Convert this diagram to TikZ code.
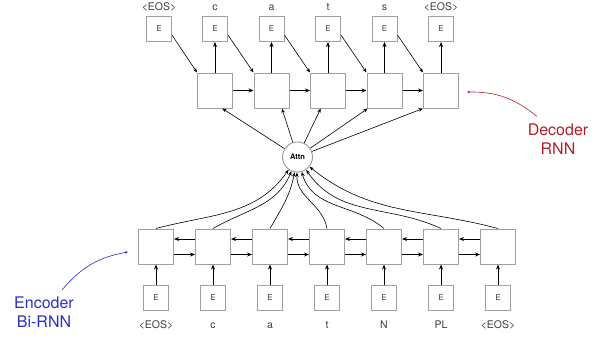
\documentclass[tikz,border=0pt]{standalone}
\usepackage{fontspec}
\setmainfont{TeX Gyre Heros}
\usetikzlibrary{arrows.meta, positioning}
\definecolor{boxgray}{RGB}{160,160,160}
\definecolor{textgray}{RGB}{60,60,60}
\definecolor{encblue}{RGB}{45,45,200}
\definecolor{decred}{RGB}{180,30,40}

\begin{document}
\begin{tikzpicture}[
    x=1pt, y=1pt,
    cell/.style={draw=boxgray, line width=1pt, minimum size=35pt, inner sep=0pt},
    embed/.style={draw=boxgray, line width=1pt, minimum size=25pt, inner sep=0pt, font=\fontsize{8}{9}\selectfont, text=textgray},
    word/.style={font=\fontsize{10.5}{12}\selectfont, text=textgray, inner sep=1pt, text height=8pt, text depth=2pt},
    attnnode/.style={circle, draw=boxgray, line width=1pt, minimum size=30pt, inner sep=0pt, font=\fontsize{7.5}{9}\bfseries\selectfont},
    arrow/.style={-{Stealth[length=5pt, width=4pt]}, line width=0.9pt},
    link/.style={-{Stealth[length=4.5pt, width=3.5pt]}, line width=0.6pt},
    note/.style={-{Stealth[length=3pt, width=2.5pt]}, line width=0.6pt},
    tag/.style={font=\fontsize{16}{19}\selectfont, align=center, inner sep=0pt}
]
    \useasboundingbox (0,0) rectangle (597,-338);

    % Encoder cells
    \node[cell] (enc1) at (156,-246.5) {};
    \node[cell, right=21pt of enc1] (enc2) {};
    \node[cell, right=21pt of enc2] (enc3) {};
    \node[cell, right=21pt of enc3] (enc4) {};
    \node[cell, right=21pt of enc4] (enc5) {};
    \node[cell, right=21pt of enc5] (enc6) {};
    \node[cell, right=21pt of enc6] (enc7) {};

    % Encoder embeddings and inputs
    \node[embed, below=20.5pt of enc1] (ee1) {E};
    \node[embed, below=20.5pt of enc2] (ee2) {E};
    \node[embed, below=20.5pt of enc3] (ee3) {E};
    \node[embed, below=20.5pt of enc4] (ee4) {E};
    \node[embed, below=20.5pt of enc5] (ee5) {E};
    \node[embed, below=20.5pt of enc6] (ee6) {E};
    \node[embed, below=20.5pt of enc7] (ee7) {E};
    \node[word, below=8.5pt of ee1] (in1) {<EOS>};
    \node[word, below=8.5pt of ee2] (in2) {c};
    \node[word, below=8.5pt of ee3] (in3) {a};
    \node[word, below=8.5pt of ee4] (in4) {t};
    \node[word, below=8.5pt of ee5] (in5) {N};
    \node[word, below=8.5pt of ee6] (in6) {PL};
    \node[word, below=8.5pt of ee7] (in7) {<EOS>};

    % Decoder cells
    \node[cell] (dec1) at (215,-90.5) {};
    \node[cell, right=20.5pt of dec1] (dec2) {};
    \node[cell, right=20.5pt of dec2] (dec3) {};
    \node[cell, right=20.5pt of dec3] (dec4) {};
    \node[cell, right=20.5pt of dec4] (dec5) {};

    % Decoder embeddings and outputs
    \node[embed, above=30.5pt of dec1] (de2) {E};
    \node[embed, left=30pt of de2] (de1) {E};
    \node[embed, above=30.5pt of dec2] (de3) {E};
    \node[embed, above=30.5pt of dec3] (de4) {E};
    \node[embed, above=30.5pt of dec4] (de5) {E};
    \node[embed, above=30.5pt of dec5] (de6) {E};
    \node[word, above=2.5pt of de1] (out1) {<EOS>};
    \node[word, above=2.5pt of de2] (out2) {c};
    \node[word, above=2.5pt of de3] (out3) {a};
    \node[word, above=2.5pt of de4] (out4) {t};
    \node[word, above=2.5pt of de5] (out5) {s};
    \node[word, above=2.5pt of de6] (out6) {<EOS>};

    % Attention
    \node[attnnode] (attn) at (297.5,-157) {Attn};

    % Labels
    \node[tag, text=encblue] (enclabel) at (44,-312.5) {Encoder\\Bi-RNN};
    \node[tag, text=decred] (declabel) at (558,-139) {Decoder\\RNN};

    % Encoder connections
    \draw[arrow] (ee1) -- (enc1);
    \draw[arrow] (ee2) -- (enc2);
    \draw[arrow] (ee3) -- (enc3);
    \draw[arrow] (ee4) -- (enc4);
    \draw[arrow] (ee5) -- (enc5);
    \draw[arrow] (ee6) -- (enc6);
    \draw[arrow] (ee7) -- (enc7);
    \draw[arrow] ([yshift=-8pt]enc1.east) -- ([yshift=-8pt]enc2.west);
    \draw[arrow] ([yshift=-8pt]enc2.east) -- ([yshift=-8pt]enc3.west);
    \draw[arrow] ([yshift=-8pt]enc3.east) -- ([yshift=-8pt]enc4.west);
    \draw[arrow] ([yshift=-8pt]enc4.east) -- ([yshift=-8pt]enc5.west);
    \draw[arrow] ([yshift=-8pt]enc5.east) -- ([yshift=-8pt]enc6.west);
    \draw[arrow] ([yshift=-8pt]enc6.east) -- ([yshift=-8pt]enc7.west);
    \draw[arrow] ([yshift=7.5pt]enc2.west) -- ([yshift=7.5pt]enc1.east);
    \draw[arrow] ([yshift=7.5pt]enc3.west) -- ([yshift=7.5pt]enc2.east);
    \draw[arrow] ([yshift=7.5pt]enc4.west) -- ([yshift=7.5pt]enc3.east);
    \draw[arrow] ([yshift=7.5pt]enc5.west) -- ([yshift=7.5pt]enc4.east);
    \draw[arrow] ([yshift=7.5pt]enc6.west) -- ([yshift=7.5pt]enc5.east);
    \draw[arrow] ([yshift=7.5pt]enc7.west) -- ([yshift=7.5pt]enc6.east);

    % Encoder to attention
    \draw[link] (enc1.north) to[out=15, in=-125] (attn);
    \draw[link] (enc2.north) to[out=30, in=-113] (attn);
    \draw[link] (enc3.north) to[out=60, in=-101] (attn);
    \draw[link] (enc4.north) to[out=100, in=-92] (attn);
    \draw[link] (enc5.north) to[out=140, in=-74] (attn);
    \draw[link] (enc6.north) to[out=155, in=-56] (attn);
    \draw[link] (enc7.north) to[out=165, in=-39] (attn);

    % Attention to decoder
    \draw[link] (attn) -- (dec1.-68);
    \draw[link] (attn) -- (dec2.-60);
    \draw[link] (attn) -- (dec3.-112);
    \draw[link] (attn) -- (dec4.-133);
    \draw[link] (attn) -- (dec5.south west);

    % Decoder connections
    \draw[arrow] (dec1) -- (dec2);
    \draw[arrow] (dec2) -- (dec3);
    \draw[arrow] (dec3) -- (dec4);
    \draw[arrow] (dec4) -- (dec5);
    \draw[arrow] (dec1) -- (de2);
    \draw[arrow] (dec2) -- (de3);
    \draw[arrow] (dec3) -- (de4);
    \draw[arrow] (dec4) -- (de5);
    \draw[arrow] (dec5) -- (de6);
    \draw[link] (de1.-25) -- (dec1.north west);
    \draw[link] (de2.-25) -- (dec2.north west);
    \draw[link] (de3.-25) -- (dec3.north west);
    \draw[link] (de4.-25) -- (dec4.north west);
    \draw[link] (de5.-25) -- (dec5.north west);

    % Label pointers
    \draw[note, encblue] ([xshift=18pt, yshift=7pt]enclabel.north) to[bend left=20] ([xshift=-10pt, yshift=-5.5pt]enc1.west);
    \draw[note, decred] ([xshift=-21pt, yshift=7pt]declabel.north) to[bend right=20] ([xshift=8pt, yshift=-1.5pt]dec5.east);
\end{tikzpicture}
\end{document}
